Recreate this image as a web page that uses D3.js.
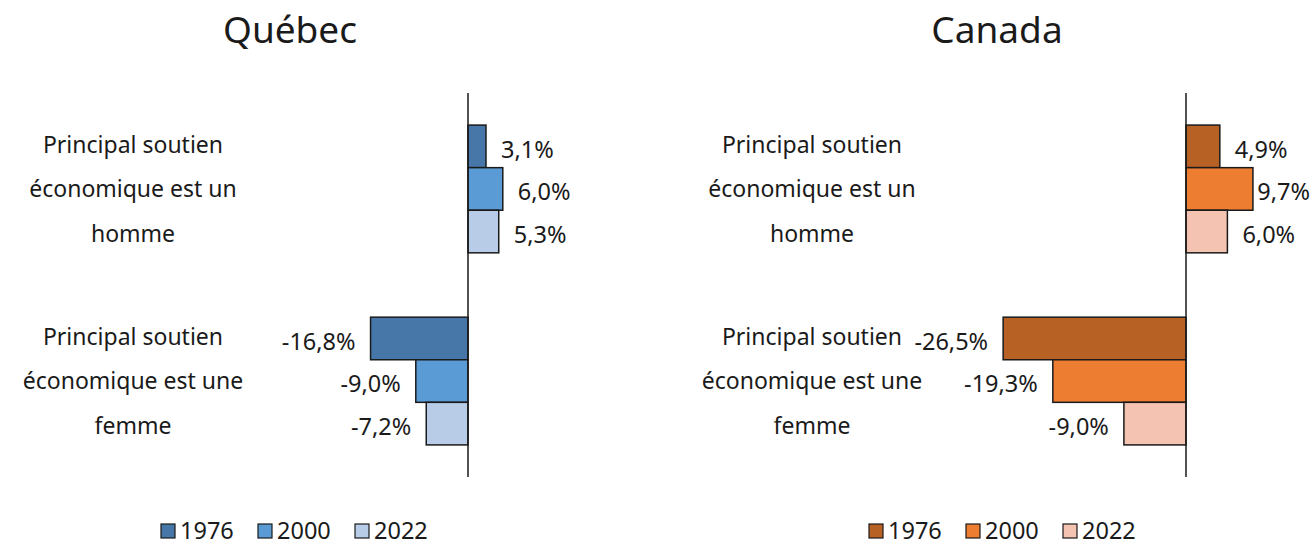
<!DOCTYPE html>
<html>
<head>
<meta charset="utf-8">
<script src="https://cdn.jsdelivr.net/npm/d3@7"></script>
<style>
  body { margin: 0; background: #fff; }
  text { font-family: "Noto Sans", sans-serif; fill: #1a1a1a; }
</style>
</head>
<body>
<div id="chart"></div>
<script>

// data
var categories = ["Principal soutien économique est un homme", "Principal soutien économique est une femme"];
var categoryLines = [
  ["Principal soutien", "économique est un", "homme"],
  ["Principal soutien", "économique est une", "femme"]
];
var years = ["1976", "2000", "2022"];
var quebecValues = [[3.1, 6.0, 5.3], [-16.8, -9.0, -7.2]];
var canadaValues = [[4.9, 9.7, 6.0], [-26.5, -19.3, -9.0]];
var quebecColors = ["#4677a8", "#5b9bd5", "#b8cce8"];
var canadaColors = ["#b86125", "#ed7d31", "#f4c3b1"];

var svgWidth = 1312;
var svgHeight = 545;

var svg = d3.select("#chart")
  .append("svg")
  .attr("width", svgWidth)
  .attr("height", svgHeight);

var panels = [
  { title: "Québec", values: quebecValues, colors: quebecColors,
    domain: [-20, 10], range: [352, 526], titleX: 290, labelX: 133, legendX: 161 },
  { title: "Canada", values: canadaValues, colors: canadaColors,
    domain: [-30, 10], range: [979, 1255], titleX: 997, labelX: 812, legendX: 869 }
];

panels.forEach(function(p) {

  var g = svg.append("g");

  var xScale = d3.scaleLinear()
    .domain(p.domain)
    .range(p.range);

  var yBand = d3.scaleBand()
    .domain(categories)
    .range([93, 477])
    .paddingInner(0.335)
    .paddingOuter(0.167);

  var yInner = d3.scaleBand()
    .domain(years)
    .range([0, yBand.bandwidth()]);

  // title
  g.append("text")
    .attr("x", p.titleX)
    .attr("y", 43)
    .attr("text-anchor", "middle")
    .style("font-size", "37px")
    .text(p.title);

  // category labels (3 lines each)
  categories.forEach(function(c, i) {
    var cy = yBand(c) + yBand.bandwidth() / 2;
    categoryLines[i].forEach(function(line, j) {
      g.append("text")
        .attr("x", p.labelX)
        .attr("y", cy + (j - 1) * 44.5)
        .attr("dy", "0.35em")
        .attr("text-anchor", "middle")
        .style("font-size", "23px")
        .text(line);
    });
  });

  // bars
  var rows = [];
  categories.forEach(function(c, i) {
    years.forEach(function(y, k) {
      rows.push({ cat: c, year: y, value: p.values[i][k], color: p.colors[k] });
    });
  });

  g.selectAll(".bar")
    .data(rows)
    .enter()
    .append("rect")
    .attr("class", "bar")
    .attr("x", d => xScale(Math.min(0, d.value)))
    .attr("y", d => yBand(d.cat) + yInner(d.year))
    .attr("width", d => Math.abs(xScale(d.value) - xScale(0)))
    .attr("height", yInner.bandwidth())
    .attr("fill", d => d.color)
    .attr("stroke", "#1a1a1a")
    .attr("stroke-width", 1.5);

  // value labels
  g.selectAll(".vlabel")
    .data(rows)
    .enter()
    .append("text")
    .attr("class", "vlabel")
    .attr("y", d => yBand(d.cat) + yInner(d.year) + yInner.bandwidth() / 2 + 3)
    .attr("dy", "0.35em")
    .style("font-size", "23.5px")
    .attr("text-anchor", d => d.value < 0 ? "end" : "start")
    .text(d => d.value.toFixed(1).replace(".", ",") + "%")
    .attr("x", function(d) {
      if (d.value < 0) return xScale(d.value) - 15;
      var x = xScale(d.value) + 15;
      var w = this.getComputedTextLength();
      return Math.min(x, svgWidth - w - 2);
    });

  // vertical axis line at zero
  g.append("line")
    .attr("x1", xScale(0))
    .attr("x2", xScale(0))
    .attr("y1", 93)
    .attr("y2", 477)
    .attr("stroke", "#1a1a1a")
    .attr("stroke-width", 1.5);

  // legend
  var legend = g.append("g")
    .attr("transform", `translate(${p.legendX}, 531)`);

  years.forEach(function(y, k) {
    var item = legend.append("g")
      .attr("transform", `translate(${k * 97}, 0)`);
    item.append("rect")
      .attr("x", 0)
      .attr("y", -7)
      .attr("width", 14)
      .attr("height", 14)
      .attr("fill", p.colors[k])
      .attr("stroke", "#1a1a1a")
      .attr("stroke-width", 1.2);
    item.append("text")
      .attr("x", 19)
      .attr("y", 0)
      .attr("dy", "0.35em")
      .style("font-size", "23.5px")
      .text(y);
  });
});

</script>
</body>
</html>
